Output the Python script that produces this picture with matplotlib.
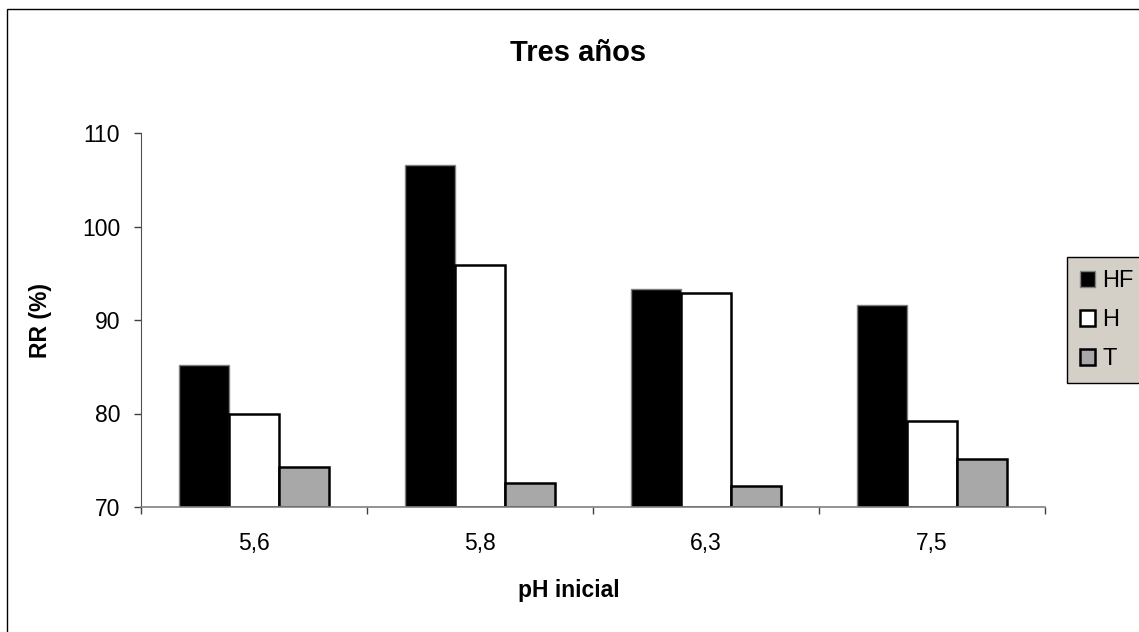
import matplotlib
matplotlib.use("Agg")
import matplotlib.pyplot as plt
import matplotlib.patches as mpatches
import numpy as np

categories = ["5,6", "5,8", "6,3", "7,5"]
series_names = ["HF", "H", "T"]
hf_values = [85.2, 106.6, 93.3, 91.6]
h_values = [79.9, 95.9, 92.9, 79.2]
t_values = [74.3, 72.6, 72.2, 75.1]
y_ticks = [70, 80, 90, 100, 110]

plt.rcParams['font.family'] = ['Liberation Sans', 'DejaVu Sans']

W, H = 1139, 632
fig = plt.figure(figsize=(W / 100, H / 100), dpi=100)
fig.patch.set_facecolor('white')

ax = fig.add_axes([141 / W, 1 - 507 / H, (1045 - 141) / W, (507 - 133) / H])

x = np.arange(len(categories))
bw = 0.2226
styles = [
    dict(facecolor='black', edgecolor='#808080', linewidth=1.0),
    dict(facecolor='white', edgecolor='black', linewidth=1.8),
    dict(facecolor='#a8a8a8', edgecolor='black', linewidth=1.8),
]
handles = []
for i, (vals, st) in enumerate(zip([hf_values, h_values, t_values], styles)):
    bars = ax.bar(x + (i - 1) * bw, np.array(vals) - 70, bottom=70, width=bw,
                  label=series_names[i], zorder=3, **st)
    handles.append(bars)

ax.set_xlim(-0.5, len(categories) - 0.5)
ax.set_ylim(70, 110)
ax.set_yticks(y_ticks)
ax.set_yticklabels([str(v) for v in y_ticks], fontsize=16.5)
ax.set_xticks(x)
ax.set_xticklabels(categories, fontsize=16.5)
ax.set_xticks(np.arange(len(categories) + 1) - 0.5, minor=True)
ax.tick_params(axis='x', which='major', length=0, pad=18)
ax.tick_params(axis='x', which='minor', length=5, width=1, color='#404040', direction='out')
ax.tick_params(axis='y', which='major', length=5, width=1, color='#404040', direction='out', pad=10)

for s in ['top', 'right']:
    ax.spines[s].set_visible(False)
ax.spines['left'].set_color('#505050')
ax.spines['bottom'].set_color('#808080')
ax.spines['bottom'].set_linewidth(1.2)
ax.spines['bottom'].set_zorder(4)

fig.text(578 / W, 1 - 53 / H, "Tres años", ha='center', va='center',
         fontsize=21, fontweight='bold')
fig.text(569 / W, 1 - 591 / H, "pH inicial", ha='center', va='center',
         fontsize=16.5, fontweight='bold')
fig.text(41 / W, 1 - 320 / H, "RR (%)", ha='center', va='center',
         fontsize=16.5, fontweight='bold', rotation=90)

# outer chart frame (clipped on right/bottom in reference)
frame = mpatches.Rectangle((7 / W, -0.2), 1.5, 1 - 9 / H + 0.2, transform=fig.transFigure,
                           facecolor='none', edgecolor='black', linewidth=1.0, clip_on=False)
fig.patches.append(frame)

leg = fig.legend(handles=handles, labels=series_names, loc='upper left',
                 bbox_to_anchor=(1067 / W, 1 - 257 / H), borderaxespad=0,
                 fontsize=17, frameon=True, fancybox=False, framealpha=1,
                 facecolor='#D4D0C8', edgecolor='black',
                 handlelength=0.65, handleheight=0.65, handletextpad=0.3,
                 labelspacing=0.72, borderpad=0.55)
leg.get_frame().set_linewidth(1.0)

fig.savefig('out.png', dpi=100)
